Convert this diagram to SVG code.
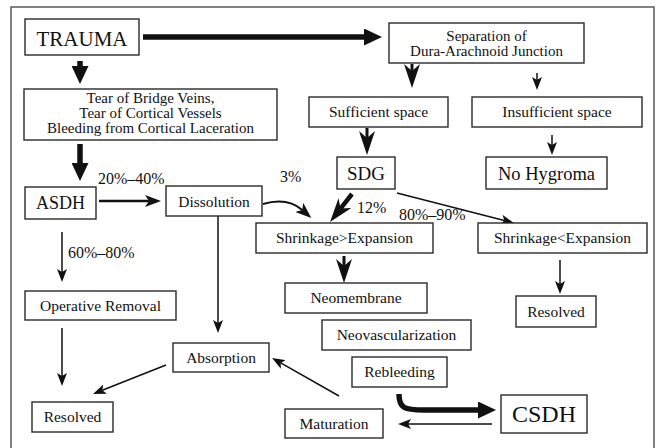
<svg xmlns="http://www.w3.org/2000/svg" width="661" height="448" viewBox="0 0 661 448" font-family="'Liberation Serif', 'Times New Roman', serif">
<style>
.box{fill:#fff;stroke:#2a2a2a;stroke-width:1.4}
.t{font-size:15.5px;fill:#111;text-anchor:middle}
.l{font-size:16px;fill:#111}
.c{fill:none;stroke:#111}
.thick{stroke-width:5.5}
.dartl{stroke-width:3}
.med{stroke-width:2.5}
.thin{stroke-width:1.5}
</style>
<defs>
<marker id="big" viewBox="0 0 18 17" refX="0.5" refY="8.5" markerWidth="18" markerHeight="17" markerUnits="userSpaceOnUse" orient="auto"><path d="M0,0 L18,8.5 L0,17 Z" fill="#111"/></marker>
<marker id="dart" viewBox="0 0 24 16" refX="7" refY="8" markerWidth="24" markerHeight="16" markerUnits="userSpaceOnUse" orient="auto"><path d="M0,0 L24,8 L0,16 L7,8 Z" fill="#111"/></marker>
<marker id="med" viewBox="0 0 16 12" refX="4" refY="6" markerWidth="16" markerHeight="12" markerUnits="userSpaceOnUse" orient="auto"><path d="M0,0 L16,6 L0,12 L4,6 Z" fill="#111"/></marker>
<marker id="thin" viewBox="0 0 13 10" refX="3" refY="5" markerWidth="13" markerHeight="10" markerUnits="userSpaceOnUse" orient="auto"><path d="M0,0 L13,5 L0,10 L3,5 Z" fill="#111"/></marker>
</defs>
<rect x="0" y="0" width="661" height="448" fill="#fff"/>
<rect x="11" y="7" width="643" height="450" fill="none" stroke="#5a5a5a" stroke-width="1.5"/>

<g id="connectors">
<path class="c thick" d="M143,37 L364.5,37" marker-end="url(#big)"/>
<path class="c thick" d="M80,61 L80,66.5" marker-end="url(#big)"/>
<path class="c thick" d="M80,144 L80,163.5" marker-end="url(#big)"/>
<path class="c thick" d="M399,394 C399,408 404,410 424,410 L478.5,410" marker-end="url(#big)"/>
<path class="c dartl" d="M412,64 L412,71" marker-end="url(#dart)"/>
<path class="c dartl" d="M367,128 L367,138" marker-end="url(#dart)"/>
<path class="c" stroke-width="4.5" d="M352,194 L340.5,208.6" marker-end="url(#dart)"/>
<path class="c dartl" d="M344,256 L344,266" marker-end="url(#dart)"/>
<path class="c med" d="M99,201 L149,201" marker-end="url(#med)"/>
<path class="c" stroke-width="2" d="M263,204 C280,199 292,201 302.3,210" marker-end="url(#med)"/>
<path class="c thin" d="M537,73 L537,80" marker-end="url(#thin)"/>
<path class="c thin" d="M552,135 L552,145" marker-end="url(#thin)"/>
<path class="c thin" d="M397,193 L504.3,220.5" marker-end="url(#thin)"/>
<path class="c thin" d="M560,260 L560,284" marker-end="url(#thin)"/>
<path class="c thin" d="M62,232 L62,272" marker-end="url(#thin)"/>
<path class="c thin" d="M62,328 L62,376" marker-end="url(#thin)"/>
<path class="c thin" d="M218,216 L218,323" marker-end="url(#thin)"/>
<path class="c thin" d="M166,365 L102.3,390.3" marker-end="url(#thin)"/>
<path class="c thin" d="M339,396 L280.7,362.9" marker-end="url(#thin)"/>
<path class="c thin" d="M492,424 L408,424" marker-end="url(#thin)"/>
</g>

<g id="labels">
<text class="l" x="98" y="184">20%–40%</text>
<text class="l" x="280" y="182">3%</text>
<text class="l" x="357" y="213">12%</text>
<text class="l" x="399" y="220">80%–90%</text>
<text class="l" x="68" y="258">60%–80%</text>
</g>

<g id="trauma"><rect class="box" x="25" y="19" width="114" height="36"/><text class="t" x="82" y="46" style="font-size:21px">TRAUMA</text></g>
<g id="separation"><rect class="box" x="389" y="23" width="195" height="40"/><text class="t" x="486.5" y="41" style="font-size:15px">Separation of</text><text class="t" x="486.5" y="56" style="font-size:15px">Dura-Arachnoid Junction</text></g>
<g id="tear"><rect class="box" x="24" y="89" width="253" height="51"/><text class="t" x="150.5" y="102.5" style="font-size:15px">Tear of Bridge Veins,</text><text class="t" x="150.5" y="117.5" style="font-size:15px">Tear of Cortical Vessels</text><text class="t" x="150.5" y="132.5" style="font-size:15px">Bleeding from Cortical Laceration</text></g>
<g id="sufficient"><rect class="box" x="309" y="97" width="139" height="30"/><text class="t" x="378.5" y="117">Sufficient space</text></g>
<g id="insufficient"><rect class="box" x="472" y="97" width="170" height="30"/><text class="t" x="557" y="117">Insufficient space</text></g>
<g id="sdg"><rect class="box" x="337" y="157" width="58" height="32"/><text class="t" x="366" y="180" style="font-size:19px">SDG</text></g>
<g id="nohygroma"><rect class="box" x="486" y="157" width="121" height="32"/><text class="t" x="546.5" y="180" style="font-size:18.5px">No Hygroma</text></g>
<g id="asdh"><rect class="box" x="25" y="187" width="71" height="32"/><text class="t" x="60.5" y="209" style="font-size:18px">ASDH</text></g>
<g id="dissolution"><rect class="box" x="166" y="186" width="96" height="30"/><text class="t" x="214" y="207">Dissolution</text></g>
<g id="shrinkgt"><rect class="box" x="256" y="223" width="177" height="30"/><text class="t" x="344.5" y="243">Shrinkage&gt;Expansion</text></g>
<g id="shrinklt"><rect class="box" x="478" y="223" width="169" height="30"/><text class="t" x="562.5" y="243">Shrinkage&lt;Expansion</text></g>
<g id="operative"><rect class="box" x="25" y="291" width="151" height="29"/><text class="t" x="100.5" y="311">Operative Removal</text></g>
<g id="neomembrane"><rect class="box" x="285" y="283" width="142" height="30"/><text class="t" x="356" y="303">Neomembrane</text></g>
<g id="resolved2"><rect class="box" x="516" y="296" width="80" height="31"/><text class="t" x="556" y="317">Resolved</text></g>
<g id="neovasc"><rect class="box" x="322" y="320" width="149" height="30"/><text class="t" x="396.5" y="340">Neovascularization</text></g>
<g id="absorption"><rect class="box" x="173" y="343" width="96" height="29"/><text class="t" x="221" y="363">Absorption</text></g>
<g id="rebleeding"><rect class="box" x="352" y="357" width="95" height="30"/><text class="t" x="399.5" y="377">Rebleeding</text></g>
<g id="resolved1"><rect class="box" x="32" y="402" width="81" height="30"/><text class="t" x="72.5" y="422">Resolved</text></g>
<g id="maturation"><rect class="box" x="285" y="409" width="98" height="29"/><text class="t" x="334" y="429">Maturation</text></g>
<g id="csdh"><rect class="box" x="501" y="395" width="86" height="38"/><text class="t" x="544" y="422" style="font-size:24px">CSDH</text></g>
</svg>
